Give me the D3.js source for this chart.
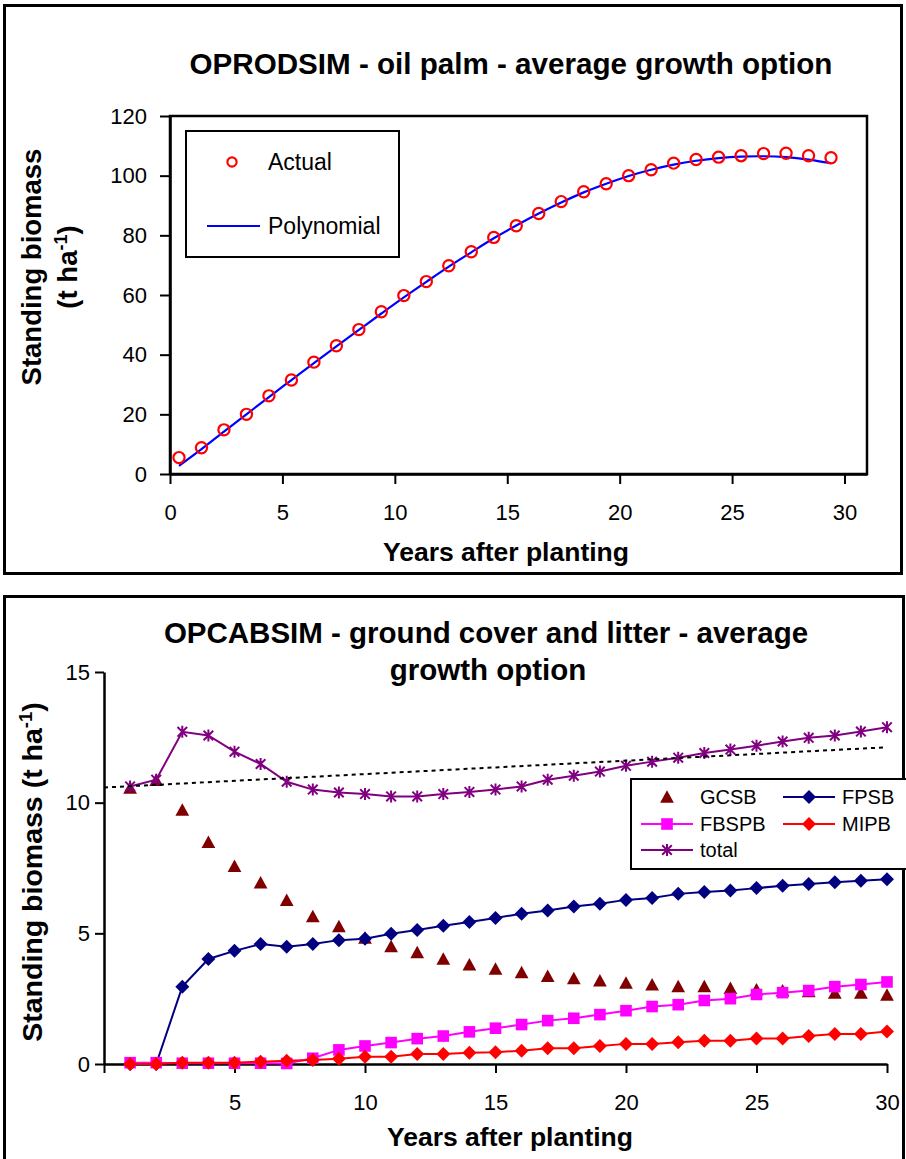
<!DOCTYPE html>
<html>
<head>
<meta charset="utf-8">
<script src="https://cdn.jsdelivr.net/npm/d3@7"></script>
<style>
  html, body { margin: 0; padding: 0; background: #fff; }
  svg { display: block; }
  text { font-family: "Liberation Sans", Arial, sans-serif; fill: #000; }
</style>
</head>
<body>
<svg id="chart" width="906" height="1159"></svg>
<script>
// ---------------- Top chart data ----------------
const topYears = [0.4, 1.4, 2.4, 3.4, 4.4, 5.4, 6.4, 7.4, 8.4, 9.4, 10.4, 11.4, 12.4, 13.4, 14.4,
                  15.4, 16.4, 17.4, 18.4, 19.4, 20.4, 21.4, 22.4, 23.4, 24.4, 25.4, 26.4, 27.4, 28.4, 29.4];
const actual = [5.5, 8.8, 14.8, 20.0, 26.2, 31.5, 37.5, 43.0, 48.4, 54.4, 59.8, 64.5, 69.8, 74.5, 79.3,
                83.2, 87.3, 91.3, 94.6, 97.3, 100.0, 102.0, 104.2, 105.4, 106.2, 106.7, 107.4, 107.5, 106.7, 106.0];
const polynomial = [2.7, 8.3, 14.2, 20.0, 25.8, 31.5, 37.2, 42.8, 48.3, 53.8, 59.2, 64.4, 69.5, 74.3, 79.0,
                    83.3, 87.3, 91.0, 94.4, 97.3, 99.9, 102.0, 103.7, 105.0, 105.9, 106.4, 106.5, 106.2, 105.4, 104.2];
const topXTicks = [0, 5, 10, 15, 20, 25, 30];
const topYTicks = [0, 20, 40, 60, 80, 100, 120];

// ---------------- Bottom chart data ----------------
const years = [1, 2, 3, 4, 5, 6, 7, 8, 9, 10, 11, 12, 13, 14, 15, 16, 17, 18, 19, 20, 21, 22, 23, 24, 25, 26, 27, 28, 29, 30];
const gcsb = [10.56, 10.85, 9.71, 8.48, 7.56, 6.93, 6.26, 5.64, 5.26, 4.82, 4.49, 4.26, 4.01, 3.79, 3.63,
              3.50, 3.35, 3.27, 3.18, 3.09, 3.03, 2.96, 2.96, 2.89, 2.84, 2.80, 2.77, 2.71, 2.71, 2.64];
const fpsb = [0, 0, 2.96, 4.02, 4.33, 4.59, 4.49, 4.59, 4.74, 4.79, 4.98, 5.13, 5.29, 5.43, 5.59,
              5.75, 5.87, 6.03, 6.13, 6.28, 6.35, 6.51, 6.58, 6.64, 6.73, 6.82, 6.89, 6.95, 7.01, 7.07];
const fbspb = [0.05, 0.05, 0.03, 0.03, 0.03, 0.03, 0.02, 0.22, 0.54, 0.69, 0.82, 0.97, 1.07, 1.23, 1.37,
               1.51, 1.66, 1.75, 1.89, 2.04, 2.20, 2.27, 2.43, 2.50, 2.66, 2.73, 2.81, 2.96, 3.04, 3.14];
const mipb = [0, 0, 0.05, 0.05, 0.05, 0.09, 0.12, 0.15, 0.20, 0.28, 0.28, 0.38, 0.38, 0.43, 0.45,
              0.51, 0.60, 0.60, 0.69, 0.77, 0.77, 0.83, 0.89, 0.89, 0.98, 0.98, 1.07, 1.15, 1.15, 1.24];
const total = [10.62, 10.88, 12.71, 12.57, 11.95, 11.48, 10.80, 10.50, 10.39, 10.33, 10.24, 10.24, 10.33, 10.41, 10.50,
               10.62, 10.88, 11.03, 11.19, 11.41, 11.57, 11.72, 11.90, 12.03, 12.18, 12.34, 12.48, 12.57, 12.72, 12.89];
const trendX = [0, 30];
const trendY = [10.58, 12.12];
const botXTicks = [0, 5, 10, 15, 20, 25, 30];
const botYTicks = [0, 5, 10, 15];

const FONT = '"Liberation Sans", Arial, sans-serif';
const svg = d3.select("#chart");

// ============ TOP CHART ============
svg.append("rect").attr("x", 4.5).attr("y", 5.5).attr("width", 897).attr("height", 568)
  .attr("fill", "none").attr("stroke", "#000").attr("stroke-width", 3);

const xT = d3.scaleLinear().domain([0, 31]).range([170, 867]);
const yT = d3.scaleLinear().domain([0, 120]).range([474, 116]);

svg.append("text").attr("x", 511).attr("y", 74).attr("text-anchor", "middle")
  .attr("font-size", 29.6).attr("font-weight", "bold")
  .text("OPRODSIM - oil palm - average growth option");

// plot border
svg.append("rect").attr("x", xT(0)).attr("y", yT(120)).attr("width", xT(31) - xT(0)).attr("height", yT(0) - yT(120))
  .attr("fill", "none").attr("stroke", "#000").attr("stroke-width", 2.5);

const gyT = svg.append("g").attr("transform", `translate(${xT(0)},0)`)
  .call(d3.axisLeft(yT).tickValues(topYTicks).tickSize(10).tickSizeOuter(0).tickPadding(13));
const gxT = svg.append("g").attr("transform", `translate(0,${yT(0)})`)
  .call(d3.axisBottom(xT).tickValues(topXTicks).tickSize(10).tickSizeOuter(0).tickPadding(20));
[gyT, gxT].forEach(g => {
  g.select(".domain").attr("stroke-width", 2.5);
  g.selectAll(".tick line").attr("stroke-width", 2);
  g.selectAll(".tick text").attr("font-size", 22).attr("font-family", FONT).attr("fill", "#000");
});

// y-axis title (two lines)
svg.append("text").attr("transform", "translate(31,267) rotate(-90)").attr("text-anchor", "middle")
  .attr("dy", "0.35em").attr("font-size", 27.5).attr("font-weight", "bold").text("Standing biomass");
const t2 = svg.append("text").attr("transform", "translate(67,267) rotate(-90)").attr("text-anchor", "middle")
  .attr("dy", "0.35em").attr("font-size", 27.5).attr("font-weight", "bold");
t2.append("tspan").text("(t ha");
t2.append("tspan").attr("font-size", 18).attr("dy", "-0.55em").text("-1");
t2.append("tspan").attr("dy", "0.36em").text(")");

svg.append("text").attr("x", 506).attr("y", 561).attr("text-anchor", "middle")
  .attr("font-size", 26.5).attr("font-weight", "bold").text("Years after planting");

// polynomial line
svg.append("path").datum(topYears.map((x, i) => [x, polynomial[i]]))
  .attr("fill", "none").attr("stroke", "#0000FF").attr("stroke-width", 2.2)
  .attr("d", d3.line().x(d => xT(d[0])).y(d => yT(d[1])).curve(d3.curveCatmullRom));

// actual circles
svg.append("g").selectAll("circle").data(topYears.map((x, i) => [x, actual[i]])).join("circle")
  .attr("cx", d => xT(d[0])).attr("cy", d => yT(d[1])).attr("r", 5.6)
  .attr("fill", "none").attr("stroke", "#FF0000").attr("stroke-width", 2.2);

// legend top
svg.append("rect").attr("x", 186).attr("y", 131).attr("width", 213).attr("height", 126)
  .attr("fill", "#fff").attr("stroke", "#000").attr("stroke-width", 2);
svg.append("circle").attr("cx", 232).attr("cy", 162).attr("r", 4.6)
  .attr("fill", "none").attr("stroke", "#FF0000").attr("stroke-width", 2.2);
svg.append("text").attr("x", 268).attr("y", 162).attr("dy", "0.36em").attr("font-size", 23).text("Actual");
svg.append("line").attr("x1", 207).attr("x2", 260).attr("y1", 226).attr("y2", 226)
  .attr("stroke", "#0000FF").attr("stroke-width", 2.2);
svg.append("text").attr("x", 268).attr("y", 226).attr("dy", "0.36em").attr("font-size", 23).text("Polynomial");

// ============ BOTTOM CHART ============
svg.append("rect").attr("x", 4.5).attr("y", 596.5).attr("width", 899).attr("height", 600)
  .attr("fill", "none").attr("stroke", "#000").attr("stroke-width", 3);

const xB = d3.scaleLinear().domain([0, 30]).range([104, 887]);
const yB = d3.scaleLinear().domain([0, 15]).range([1064, 672]);

const title2 = svg.append("text").attr("text-anchor", "middle").attr("font-size", 29.5).attr("font-weight", "bold");
title2.append("tspan").attr("x", 486).attr("y", 643).text("OPCABSIM - ground cover and litter - average");
title2.append("tspan").attr("x", 488).attr("y", 680).text("growth option");

const gyB = svg.append("g").attr("transform", `translate(${xB(0)},0)`)
  .call(d3.axisLeft(yB).tickValues(botYTicks).tickSize(9).tickSizeOuter(0).tickPadding(5));
const gxB = svg.append("g").attr("transform", `translate(0,${yB(0)})`)
  .call(d3.axisBottom(xB).tickValues(botXTicks).tickSize(9).tickSizeOuter(0).tickPadding(21)
    .tickFormat(d => d === 0 ? "" : d));
[gyB, gxB].forEach(g => {
  g.select(".domain").attr("stroke-width", 2.5);
  g.selectAll(".tick line").attr("stroke-width", 2);
  g.selectAll(".tick text").attr("font-size", 22).attr("font-family", FONT).attr("fill", "#000");
});

const t3 = svg.append("text").attr("transform", "translate(32,872) rotate(-90)").attr("text-anchor", "middle")
  .attr("dy", "0.35em").attr("font-size", 28.5).attr("font-weight", "bold");
t3.append("tspan").text("Standing biomass (t ha");
t3.append("tspan").attr("font-size", 18.5).attr("dy", "-0.55em").text("-1");
t3.append("tspan").attr("dy", "0.36em").text(")");

svg.append("text").attr("x", 510).attr("y", 1146).attr("text-anchor", "middle")
  .attr("font-size", 26.5).attr("font-weight", "bold").text("Years after planting");

// marker paths
const triPath = (s) => `M0,${-s * 0.55}L${s * 0.55},${s * 0.45}L${-s * 0.55},${s * 0.45}Z`;
const diaPath = (s) => `M0,${-s}L${s},0L0,${s}L${-s},0Z`;
const sqPath = (s) => `M${-s},${-s}H${s}V${s}H${-s}Z`;
const starPath = (s) => `M0,${-s}V${s}M${-s * 0.8},${-s * 0.8}L${s * 0.8},${s * 0.8}M${s * 0.8},${-s * 0.8}L${-s * 0.8},${s * 0.8}`;

const lineB = d3.line().x(d => xB(d[0])).y(d => yB(d[1]));
const seriesB = [
  { name: "GCSB", vals: gcsb, color: "#800000", line: false, marker: "tri" },
  { name: "FPSB", vals: fpsb, color: "#000080", line: true, marker: "dia" },
  { name: "FBSPB", vals: fbspb, color: "#FF00FF", line: true, marker: "sq" },
  { name: "MIPB", vals: mipb, color: "#FF0000", line: true, marker: "dia" },
  { name: "total", vals: total, color: "#800080", line: true, marker: "star" }
];
function drawMarker(g, type, color) {
  if (type === "tri") g.append("path").attr("d", triPath(12.5)).attr("fill", color);
  if (type === "dia") g.append("path").attr("d", diaPath(7)).attr("fill", color);
  if (type === "sq") g.append("path").attr("d", sqPath(5.8)).attr("fill", color);
  if (type === "star") g.append("path").attr("d", starPath(6)).attr("fill", "none")
    .attr("stroke", color).attr("stroke-width", 2);
}
seriesB.forEach(s => {
  const pts = years.map((x, i) => [x, s.vals[i]]);
  const g = svg.append("g");
  if (s.line) g.append("path").datum(pts).attr("fill", "none").attr("stroke", s.color)
    .attr("stroke-width", 2).attr("d", lineB);
  pts.forEach(p => {
    const m = g.append("g").attr("transform", `translate(${xB(p[0])},${yB(p[1])})`);
    drawMarker(m, s.marker, s.color);
  });
});

// linear trend (dotted)
svg.append("path").datum(trendX.map((x, i) => [x, trendY[i]]))
  .attr("fill", "none").attr("stroke", "#000").attr("stroke-width", 2)
  .attr("stroke-dasharray", "4,4").attr("d", lineB);

// legend bottom
svg.append("rect").attr("x", 631).attr("y", 779).attr("width", 290).attr("height", 90)
  .attr("fill", "#fff").attr("stroke", "#000").attr("stroke-width", 2);
const legItems = [
  { s: seriesB[0], lx: 641, ly: 797 },
  { s: seriesB[1], lx: 783, ly: 797 },
  { s: seriesB[2], lx: 641, ly: 824 },
  { s: seriesB[3], lx: 783, ly: 824 },
  { s: seriesB[4], lx: 641, ly: 850 }
];
legItems.forEach(it => {
  const g = svg.append("g");
  if (it.s.line) g.append("line").attr("x1", it.lx).attr("x2", it.lx + 52).attr("y1", it.ly).attr("y2", it.ly)
    .attr("stroke", it.s.color).attr("stroke-width", 2);
  const m = g.append("g").attr("transform", `translate(${it.lx + 26},${it.ly})`);
  drawMarker(m, it.s.marker, it.s.color);
  g.append("text").attr("x", it.lx + 59).attr("y", it.ly).attr("dy", "0.36em").attr("font-size", 20).text(it.s.name);
});
</script>
</body>
</html>
